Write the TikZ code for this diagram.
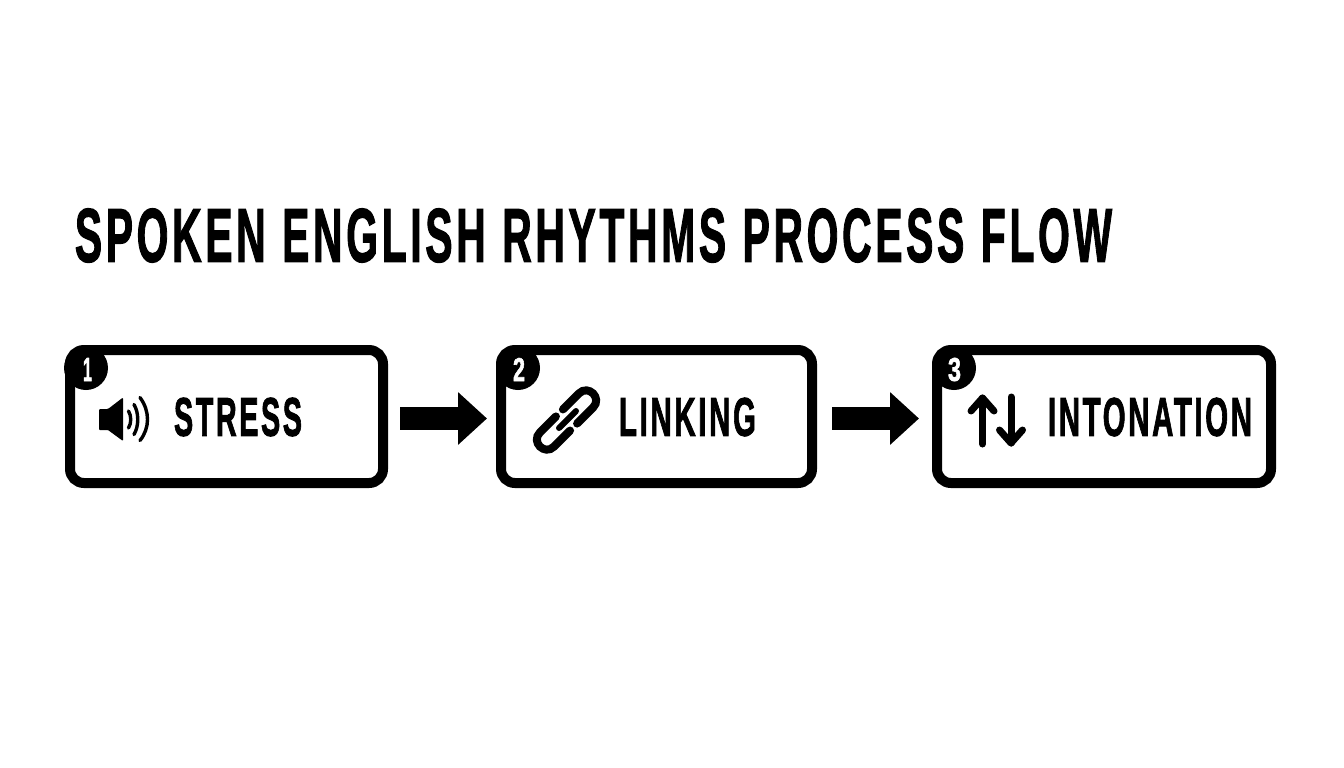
\documentclass[tikz,border=0pt]{standalone}
\usepackage{fontspec}
\usepackage{graphicx}
\setmainfont{Liberation Sans}
\newfontfamily\condfont[FakeBold=2,LetterSpace=9,WordSpace=1.1]{Liberation Sans Bold}
\usetikzlibrary{arrows.meta}
\newcommand{\fittext}[3]{\resizebox{#1pt}{#2pt}{\condfont #3}}
\tikzset{
  flowbox/.style={draw=black,line width=10pt,rounded corners=14pt,fill=white,inner sep=0pt,anchor=north west,minimum height=133pt},
  badge/.style={circle,fill=black,minimum size=44pt,inner sep=0pt},
  label/.style={inner sep=0pt,text=black},
  digit/.style={inner sep=0pt,text=white},
  flowarrow/.style={line width=22.7pt,black,-{Triangle[length=29pt,width=51pt]}},
  iconline/.style={line width=7pt,line cap=round,line join=round,black},
  wave/.style={line width=3.4pt,line cap=round,black},
  linkline/.style={line width=8pt,line cap=round,black},
  linkbar/.style={line width=6pt,line cap=round,black}
}
\begin{document}
\begin{tikzpicture}[x=1pt,y=-1pt]
\useasboundingbox (0,0) rectangle (1344,768);
\fill[white] (0,0) rectangle (1344,768);
\node[label] (title) at (593.5,235.5) {\fittext{1037}{53}{SPOKEN ENGLISH RHYTHMS PROCESS FLOW}};
% boxes
\node[flowbox,minimum width=313pt] (box1) at (65,345) {};
\node[flowbox,minimum width=311pt] (box2) at (496,345) {};
\node[flowbox,minimum width=334pt] (box3) at (932,345) {};
% badges
\node[badge] (b1) at (86,368) {};
\node[badge] (b2) at (518,368) {};
\node[badge] (b3) at (954,368) {};
\node[digit] (d1) at (87.5,369.5) {\fittext{9}{23}{1}};
\node[digit] (d2) at (519,369.5) {\fittext{12}{23}{2}};
\node[digit] (d3) at (954.5,369.5) {\fittext{13}{23}{3}};
% labels
\node[label] (t1) at (238,417) {\fittext{128}{38}{STRESS}};
\node[label] (t2) at (687.5,417) {\fittext{137}{38}{LINKING}};
\node[label] (t3) at (1150,417) {\fittext{204}{38}{INTONATION}};
% connectors
\draw[flowarrow,shorten <=12pt,shorten >=9pt] ([yshift=-2pt]box1.east) -- ([yshift=-2pt]box2.west);
\draw[flowarrow,shorten <=15pt,shorten >=13pt] ([yshift=-2pt]box2.east) -- ([yshift=-2pt]box3.west);
% speaker icon
\fill[black,rounded corners=1pt] (99,409) -- (108,409) -- (123,397.5) -- (123,441) -- (108,430) -- (99,430) -- cycle;
\draw[wave] (128.5,411) .. controls (131.5,416) and (131.5,423) .. (128.5,428);
\draw[wave] (134,404.5) .. controls (139,413) and (139,426) .. (134,434.5);
\draw[wave] (140,397.5) .. controls (150,411) and (150,428) .. (140,440.5);
% link icon
\draw[linkline] (577.07,423.57) -- (593.07,407.57) .. controls (602.5,398.14) and (588.36,384) .. (578.93,393.43) -- (562.93,409.43);
\draw[linkline] (555.93,416.43) -- (539.93,432.43) .. controls (530.5,441.86) and (544.64,456) .. (554.07,446.57) -- (570.07,430.57);
\draw[linkbar] (559,428) -- (576,411);
% up/down arrows
\draw[iconline] (982.5,444) -- (982.5,398);
\draw[iconline] (971,411) -- (982.5,398) -- (994,411);
\draw[iconline] (1011,397) -- (1011,443);
\draw[iconline] (999.5,430) -- (1011,443) -- (1022.5,430);
\end{tikzpicture}
\end{document}
